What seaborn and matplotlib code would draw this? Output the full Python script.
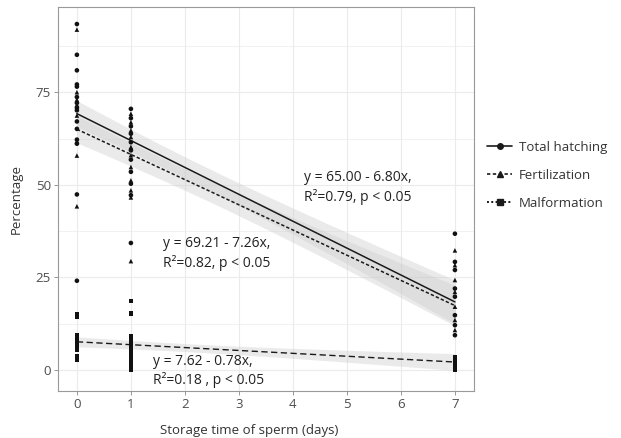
import numpy as np
import pandas as pd
import matplotlib
matplotlib.use("Agg")
import matplotlib.pyplot as plt
from matplotlib.lines import Line2D
import seaborn as sns

# Observed percentages per storage day
hatch_d0 = [93.4, 85.1, 80.9, 77.1, 76.5, 73.7, 72.1, 70.8, 70.1, 67.1, 65.1, 62.2, 61.1, 47.4, 24.1]
hatch_d1 = [70.5, 68.0, 65.8, 63.8, 61.5, 59.3, 56.8, 53.5, 50.3, 47.2, 34.3]
hatch_d7 = [36.8, 29.2, 27.0, 22.0, 19.8, 14.8, 12.1, 9.4]

fert_d0 = [91.9, 75.0, 73.0, 71.6, 68.7, 61.8, 57.9, 44.2]
fert_d1 = [69.2, 66.9, 64.7, 62.9, 60.2, 58.0, 54.8, 51.2, 48.5, 46.6, 29.4]
fert_d7 = [32.3, 28.3, 24.3, 21.1, 17.1, 13.5, 10.8]

malf_d0 = [15.1, 14.4, 9.4, 8.6, 7.6, 6.7, 5.4, 3.6, 2.7]
malf_d1 = [18.6, 15.3, 9.2, 8.1, 7.3, 6.2, 5.4, 4.3, 3.2, 2.2, 1.1, 0.0]
malf_d7 = [3.5, 2.7, 1.9, 1.1, 0.5, 0.0]

# Fitted regression coefficients (intercept, slope)
solid_fit = (69.21, -7.26)
short_dash_fit = (65.00, -6.80)
malf_fit = (7.62, -0.78)

eq_labels = [
    "y = 65.00 - 6.80x,\nR\u00b2=0.79, p < 0.05",
    "y = 69.21 - 7.26x,\nR\u00b2=0.82, p < 0.05",
    "y = 7.62 - 0.78x,\nR\u00b2=0.18 , p < 0.05",
]
series_names = ["Total hatching", "Fertilization", "Malformation"]
x_ticks = [0, 1, 2, 3, 4, 5, 6, 7]
y_ticks = [0, 25, 50, 75]


def long_frame(name, d0, d1, d7):
    rows = [(0, v) for v in d0] + [(1, v) for v in d1] + [(7, v) for v in d7]
    df = pd.DataFrame(rows, columns=["day", "pct"])
    df["series"] = name
    return df


frames = {
    "Total hatching": long_frame("Total hatching", hatch_d0, hatch_d1, hatch_d7),
    "Fertilization": long_frame("Fertilization", fert_d0, fert_d1, fert_d7),
    "Malformation": long_frame("Malformation", malf_d0, malf_d1, malf_d7),
}
data = pd.concat(frames.values(), ignore_index=True)

sns.set_theme(style="white")
plt.rcParams["font.family"] = ["Open Sans", "DejaVu Sans"]

fig = plt.figure(figsize=(6.21, 4.38), dpi=100)
ax = fig.add_axes([0.0934, 0.107, 0.6696, 0.877])

grey_txt = "#4d4d4d"
line_col = "#1a1a1a"

# grid: major + minor horizontal, major vertical
for yv in [-12.5, 0, 12.5, 25, 37.5, 50, 62.5, 75, 87.5]:
    ax.axhline(yv, color="#ebebeb", lw=0.8 if yv % 25 == 0 else 0.5, zorder=0)
for xv in x_ticks:
    ax.axvline(xv, color="#ebebeb", lw=0.8, zorder=0)

# confidence bands around each fitted line
xs = np.linspace(0, 7, 100)


def band(df, coef, k=1.25):
    a, b = coef
    x = df["day"].to_numpy(float)
    y = df["pct"].to_numpy(float)
    n = len(x)
    resid = y - (a + b * x)
    s = np.sqrt(np.sum(resid ** 2) / (n - 2))
    sxx = np.sum((x - x.mean()) ** 2)
    se = s * np.sqrt(1.0 / n + (xs - x.mean()) ** 2 / sxx)
    fit = a + b * xs
    return fit - k * se, fit + k * se


for name, coef in [("Total hatching", solid_fit), ("Fertilization", short_dash_fit),
                   ("Malformation", malf_fit)]:
    lo, hi = band(frames[name], coef)
    ax.fill_between(xs, lo, hi, color="#cccccc", alpha=0.4, lw=0, zorder=1)

# points
sns.scatterplot(data=data, x="day", y="pct", style="series",
                markers={"Total hatching": "o", "Fertilization": "^", "Malformation": "s"},
                color="#111111", s=11, edgecolor="none", legend=False, ax=ax, zorder=3)

# fitted lines
ax.plot(xs, solid_fit[0] + solid_fit[1] * xs, color=line_col, lw=1.1, ls="-", zorder=2)
ax.plot(xs, short_dash_fit[0] + short_dash_fit[1] * xs, color=line_col, lw=1.1,
        ls=(0, (2.2, 1.4)), zorder=2)
ax.plot(xs, malf_fit[0] + malf_fit[1] * xs, color=line_col, lw=1.0,
        ls=(0, (4.5, 2.5)), zorder=2)

# equation annotations
txt_kw = dict(fontsize=10, color="#222222", ha="left", va="center", linespacing=1.3)
ax.text(4.21, 49.2, eq_labels[0], **txt_kw)
ax.text(1.6, 31.4, eq_labels[1], **txt_kw)
ax.text(1.4, -0.3, eq_labels[2], **txt_kw)

ax.set_xlim(-0.35, 7.35)
ax.set_ylim(-5.7, 98.0)
ax.set_xticks(x_ticks)
ax.set_yticks(y_ticks)
ax.tick_params(axis="both", which="both", direction="out", length=3, width=0.6,
               color="#888888", labelsize=9.5, labelcolor=grey_txt, pad=2,
               bottom=True, left=True)
for sp in ax.spines.values():
    sp.set_color("#999999")
    sp.set_linewidth(0.8)

ax.set_xlabel("Storage time of sperm (days)", fontsize=9.5, color="#333333")
ax.set_ylabel("Percentage", fontsize=9.5, color="#333333")
ax.xaxis.set_label_coords(0.46, -0.085)
ax.yaxis.set_label_coords(-0.085, 0.5)

handles = [
    Line2D([], [], color=line_col, ls="-", lw=1.2, marker="o", ms=4),
    Line2D([], [], color=line_col, ls=(0, (2, 1.5)), lw=1.2, marker="^", ms=4.5),
    Line2D([], [], color=line_col, ls=(0, (1, 1.2)), lw=1.4, marker="s", ms=4),
]
fig.legend(handles, series_names, loc="center left", bbox_to_anchor=(0.772, 0.6),
           frameon=False, fontsize=9.5, handlelength=1.9, handletextpad=0.5,
           labelspacing=1.15, labelcolor="#333333", borderaxespad=0.2)

fig.savefig("out.png", dpi=100)
